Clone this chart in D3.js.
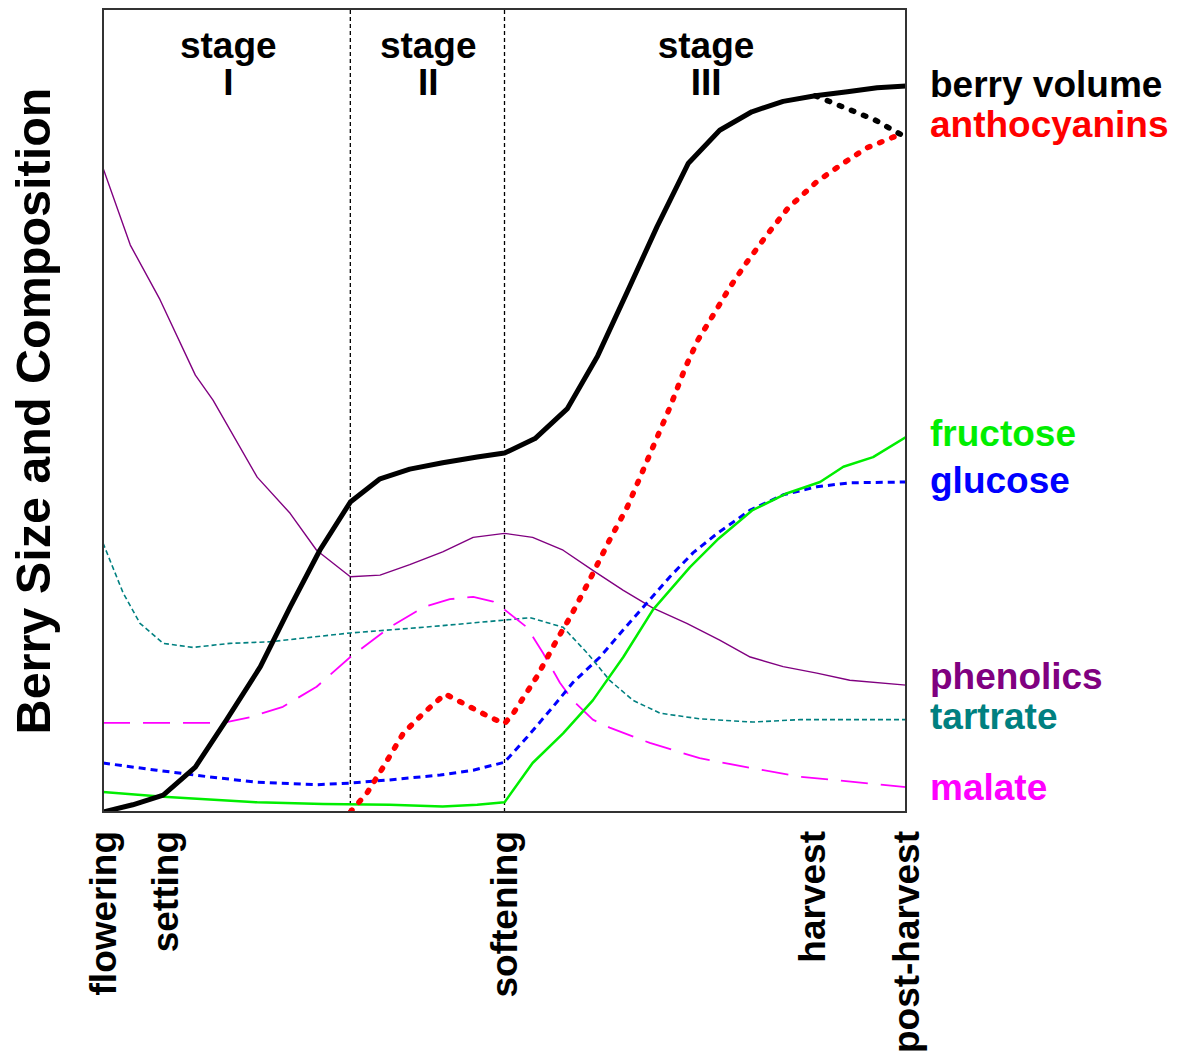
<!DOCTYPE html>
<html>
<head>
<meta charset="utf-8">
<script src="https://cdn.jsdelivr.net/npm/d3@7"></script>
<style>
  html, body { margin: 0; padding: 0; background: #fff; }
  svg { display: block; }
  text { font-family: "Liberation Sans", Arial, sans-serif; font-weight: bold; }
</style>
</head>
<body>
<div id="chart"></div>
<script>
// ---- data (x: relative time 0..100, y: relative level 0..100) ----
const berryVolume = [[0,0],[3.7,0.9],[7.5,2.1],[11.5,5.6],[15.4,11.5],[19.6,18.1],[23.3,25.5],[27.0,32.6],[30.8,38.6],[34.5,41.5],[38.2,42.7],[42.3,43.5],[46.6,44.2],[50,44.7],[53.8,46.5],[57.8,50.2],[61.6,56.8],[65.3,64.8],[69.0,72.9],[72.9,80.8],[76.8,84.9],[80.8,87.2],[84.7,88.5],[88.7,89.2],[92.7,89.7],[96.4,90.2],[100,90.4]];
const berryVolumeShrink = [[88.7,89.2],[92.4,87.7],[96.1,86.2],[99.3,84.4]];
const anthocyanins = [[30.8,0],[32.9,2.4],[34.9,5.6],[37.4,9.8],[39.9,12.3],[42.6,14.7],[45.3,13.3],[48.2,11.8],[50,11.0],[51.1,12.3],[54.0,16.8],[56.5,21.4],[58.2,24.3],[60.6,28.9],[63.1,33.9],[65.3,38.0],[67.7,43.6],[70.6,50.4],[72.5,55.3],[74.1,58.8],[76.0,61.9],[78.1,65.4],[80.2,68.5],[82.7,71.9],[85.3,75.2],[88.9,78.5],[92.2,80.8],[95.1,82.7],[99.3,84.4]];
const phenolics = [[0,80.2],[3.4,70.6],[7.1,63.8],[11.5,54.4],[13.7,51.3],[19.2,41.7],[23.3,37.2],[26.6,32.6],[30.8,29.3],[34.5,29.5],[38.2,30.8],[42.3,32.4],[46.1,34.2],[50,34.7],[53.5,34.2],[57.3,32.6],[61.0,30.1],[64.8,27.6],[68.5,25.4],[72.7,23.5],[76.8,21.4],[80.6,19.3],[84.7,18.1],[88.9,17.3],[93.0,16.4],[100,15.8]];
const tartrate = [[0,33.5],[2.5,27.3],[4.6,23.5],[7.5,21.0],[11.2,20.5],[15.8,21.0],[20.8,21.2],[30.8,22.3],[39.9,23.0],[50,23.9],[53.2,24.2],[57.3,23.0],[60.3,19.8],[63.1,16.4],[66.0,13.9],[69.4,12.3],[74.3,11.6],[80.9,11.2],[86.8,11.5],[100,11.5]];
const malate = [[0,11.1],[14.9,11.1],[18.3,11.8],[22.4,13.1],[26.6,15.6],[30.8,19.3],[35.7,23.0],[39.9,25.5],[43.2,26.5],[46.1,26.8],[48.6,26.2],[50,25.2],[52.8,23.0],[54.8,19.8],[56.9,16.1],[58.5,13.9],[61.0,11.5],[63.1,10.5],[68.1,8.6],[74.3,6.7],[80.6,5.5],[86.8,4.4],[100,3.1]];
const glucose = [[0,6.1],[6.7,5.2],[13.0,4.4],[19.2,3.7],[26.6,3.4],[30.8,3.6],[35.7,4.0],[42.0,4.6],[46.1,5.2],[50,6.2],[52.8,9.3],[55.7,12.7],[58.5,16.1],[61.9,19.3],[64.8,22.7],[67.7,26.0],[70.6,29.3],[73.5,32.3],[76.5,34.7],[80.6,37.6],[84.7,39.5],[88.9,40.5],[93.0,41.0],[100,41.1]];
const fructose = [[0,2.5],[7.5,1.9],[19.2,1.2],[27.4,1.0],[35.7,0.9],[42.3,0.7],[46.6,0.9],[50,1.2],[53.5,6.1],[57.3,9.8],[61.0,13.9],[64.8,19.3],[68.5,25.2],[73.1,30.5],[76.5,33.9],[80.9,37.6],[85.2,39.7],[89.3,41.1],[92.2,43.0],[95.9,44.2],[100,46.7]];

const stageBoundaries = [30.8, 50];
const stageNames = [["stage","I"],["stage","II"],["stage","III"]];
const stageCenters = [15.6, 40.5, 75.1];
const eventLabels = ["flowering","setting","softening","harvest","post-harvest"];
const eventTimes = [0, 7.8, 50, 88.4, 100];
const seriesLabels = ["berry volume","anthocyanins","fructose","glucose","phenolics","tartrate","malate"];
const seriesLabelLevels = [89.1, 84.0, 45.6, 39.7, 15.3, 10.3, 1.5];

// ---- layout ----
const W = 1178, H = 1055;
const m = {left: 103, right: W - 906, top: 9, bottom: H - 812};
const svg = d3.select("#chart").append("svg").attr("width", W).attr("height", H);

const x = d3.scaleLinear().domain([0, 100]).range([m.left, W - m.right]);
const y = d3.scaleLinear().domain([0, 100]).range([H - m.bottom, m.top]);

svg.append("clipPath").attr("id", "clip").append("rect")
  .attr("x", x(0)).attr("y", y(100)).attr("width", x(100) - x(0)).attr("height", y(0) - y(100));

const line = d3.line().x(d => x(d[0])).y(d => y(d[1]));
const g = svg.append("g").attr("clip-path", "url(#clip)");

// stage boundaries
g.selectAll("line.stage").data(stageBoundaries).join("line")
  .attr("x1", d => x(d)).attr("x2", d => x(d)).attr("y1", y(0)).attr("y2", y(100))
  .attr("stroke", "#000").attr("stroke-width", 1.3).attr("stroke-dasharray", "4,3");

const styles = [
  {data: tartrate, color: "#008080", w: 1.6, dash: "5,3", cap: "butt"},
  {data: malate, color: "#ff00ff", w: 1.8, dash: "27,13", cap: "butt"},
  {data: phenolics, color: "#800080", w: 1.4, dash: null, cap: "butt"},
  {data: glucose, color: "#0000ff", w: 3, dash: "7,5", cap: "butt"},
  {data: fructose, color: "#00ee00", w: 2.5, dash: null, cap: "butt"},
  {data: berryVolume, color: "#000000", w: 5, dash: null, cap: "round"},
  {data: berryVolumeShrink, color: "#000000", w: 5.5, dash: "2.5,10.5", cap: "round"},
  {data: anthocyanins, color: "#ff0000", w: 5.5, dash: "2.5,10.5", cap: "round"}
];
styles.forEach(s => {
  g.append("path").datum(s.data).attr("d", line)
    .attr("fill", "none").attr("stroke", s.color).attr("stroke-width", s.w)
    .attr("stroke-linejoin", "round").attr("stroke-linecap", s.cap)
    .attr("stroke-dasharray", s.dash);
});

// frame
svg.append("rect").attr("x", x(0)).attr("y", y(100))
  .attr("width", x(100) - x(0)).attr("height", y(0) - y(100))
  .attr("fill", "none").attr("stroke", "#333").attr("stroke-width", 2);

// stage labels
stageNames.forEach((nm, i) => {
  const t = svg.append("text").attr("x", x(stageCenters[i])).attr("y", 58)
    .attr("text-anchor", "middle").attr("font-size", 37).attr("fill", "#000");
  t.append("tspan").attr("x", x(stageCenters[i])).attr("dy", 0).text(nm[0]);
  t.append("tspan").attr("x", x(stageCenters[i])).attr("dy", 37).text(nm[1]);
});

// bottom axis
const axis = d3.axisBottom(x).tickValues(eventTimes)
  .tickFormat((d, i) => eventLabels[i]).tickSize(0);
const ax = svg.append("g").attr("transform", `translate(0,${y(0)})`).call(axis);
ax.select(".domain").remove();
ax.selectAll("text")
  .attr("transform", "rotate(-90)")
  .attr("x", -19).attr("y", 12).attr("dy", 0)
  .attr("text-anchor", "end")
  .attr("font-size", 37).attr("fill", "#000")
  .style("font-family", '"Liberation Sans", Arial, sans-serif').style("font-weight", "bold");

// series labels on right
const labelColors = ["#000000","#ff0000","#00ee00","#0000ff","#800080","#008080","#ff00ff"];
svg.selectAll("text.slab").data(seriesLabels).join("text")
  .attr("class", "slab")
  .attr("x", 930).attr("y", (d, i) => y(seriesLabelLevels[i]))
  .attr("font-size", 37).attr("fill", (d, i) => labelColors[i])
  .text(d => d);

// y axis title
svg.append("text")
  .attr("transform", `translate(50,411) rotate(-90)`)
  .attr("text-anchor", "middle").attr("font-size", 48.5).attr("fill", "#000")
  .text("Berry Size and Composition");
</script>
</body>
</html>
